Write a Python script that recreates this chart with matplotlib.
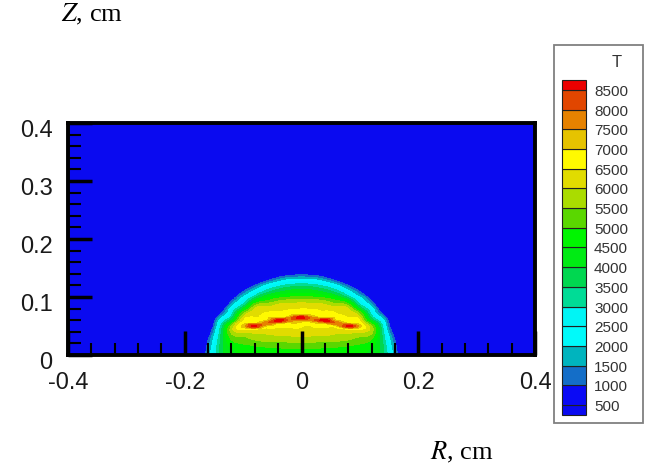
import numpy as np
import matplotlib.pyplot as plt
import matplotlib.tri as mtri
import matplotlib.transforms as mtransforms
from matplotlib.colors import ListedColormap, BoundaryNorm
from matplotlib.patches import Rectangle
from matplotlib.ticker import MultipleLocator

plt.rcParams['mathtext.fontset'] = 'stix'

# temperature field of the half dome (r >= 0);
# values under 500 all show as the ambient blue
r_half = [0.00, 0.02, 0.04, 0.06, 0.08, 0.10, 0.12, 0.14, 0.16, 0.18, 0.20]
z_vals = [0.00, 0.01, 0.02, 0.03, 0.035, 0.04, 0.045, 0.05, 0.055, 0.06, 0.065,
          0.07, 0.075, 0.08, 0.09, 0.10, 0.11, 0.12, 0.13, 0.14, 0.15, 0.16]
# one row per r value, one entry per z value
T_half = [
    [4750, 4950, 5400, 5900, 6100, 6250, 6400, 6550, 6800, 7700, 8700,
     7000, 6700, 6450, 6000, 5100, 4250, 3300, 2100, 750, -700, -2000],
    [4750, 4950, 5380, 5880, 6080, 6230, 6380, 6550, 6900, 7800, 7500,
     6900, 6650, 6400, 5950, 5000, 4150, 3200, 2000, 600, -800, -2100],
    [4720, 4920, 5350, 5850, 6050, 6200, 6350, 6600, 7300, 8700, 6950,
     6750, 6550, 6350, 5800, 4800, 3800, 2800, 1500, 200, -1100, -2400],
    [4700, 4880, 5300, 5780, 5960, 6150, 6400, 7000, 7900, 7000, 6800,
     6600, 6400, 6200, 5400, 4300, 3200, 2100, 700, -600, -1900, -3000],
    [4650, 4820, 5200, 5650, 5850, 6100, 6700, 8650, 7000, 6700, 6500,
     6350, 6200, 6000, 4800, 3300, 2200, 1000, -300, -1600, -2900, -3000],
    [4550, 4700, 5050, 5450, 5700, 6050, 6600, 7200, 6700, 6400, 6050,
     5600, 4900, 4000, 2800, 2000, 900, -400, -1700, -3000, -3000, -3000],
    [4350, 4450, 4750, 5150, 5400, 5650, 5750, 5500, 4800, 3900, 3300,
     2900, 2600, 2300, 1300, 100, -1200, -2500, -3000, -3000, -3000, -3000],
    [3600, 3550, 3450, 3300, 3200, 3100, 2950, 2750, 2500, 2100, 1600,
     1000, 400, -200, -1400, -2600, -3000, -3000, -3000, -3000, -3000, -3000],
    [1450, 1350, 1150, 850, 600, 350, 50, -250, -550, -850, -1150,
     -1450, -1750, -2050, -2650, -3000, -3000, -3000, -3000, -3000, -3000, -3000],
    [-500, -600, -800, -1100, -1300, -1500, -1700, -1900, -2100, -2300, -2500,
     -2700, -2900, -3000, -3000, -3000, -3000, -3000, -3000, -3000, -3000, -3000],
    [-2000, -2100, -2300, -2600, -2700, -2800, -2900, -3000, -3000, -3000, -3000,
     -3000, -3000, -3000, -3000, -3000, -3000, -3000, -3000, -3000, -3000, -3000],
]

levels = [500, 1000, 1500, 2000, 2500, 3000, 3500, 4000, 4500,
          5000, 5500, 6000, 6500, 7000, 7500, 8000, 8500]
level_labels = [str(v) for v in levels]

x_ticks = [-0.4, -0.2, 0.0, 0.2, 0.4]
x_tick_labels = ['-0.4', '-0.2', '0', '0.2', '0.4']
y_ticks = [0.0, 0.1, 0.2, 0.3, 0.4]
y_tick_labels = ['0', '0.1', '0.2', '0.3', '0.4']

# band colours, from below 500 up to above 8500
band_colors = ['#0a0af0', '#0a0af5', '#146ec8', '#00b4be', '#00fafa', '#00f5f5',
               '#00dc96', '#00d750', '#00eb14', '#00f500', '#5ad700', '#aadc00',
               '#e1dc00', '#fffa00', '#e6c300', '#e68200', '#e14600', '#eb0000']

cmap = ListedColormap(band_colors[1:-1])
cmap.set_under(band_colors[0])
cmap.set_over(band_colors[-1])
norm = BoundaryNorm(levels, cmap.N)

# mirror the half field to the left side
r_full = [-r for r in r_half[::-1]] + r_half[1:]
T_full = np.array(T_half[::-1] + T_half[1:], dtype=float)
R, Z = np.meshgrid(r_full, z_vals, indexing='ij')
tri = mtri.Triangulation(R.ravel(), Z.ravel())
interp = mtri.CubicTriInterpolator(tri, T_full.ravel(), kind='min_E')
refiner = mtri.UniformTriRefiner(tri)
tri_fine, T_fine = refiner.refine_field(T_full.ravel(), triinterpolator=interp, subdiv=4)

fig = plt.figure(figsize=(6.49, 4.74), dpi=100)
ax = fig.add_axes([68 / 649, 1 - 355 / 474, 467 / 649, 232 / 474])
ax.set_facecolor(band_colors[0])
ax.tricontourf(tri_fine, T_fine, levels=levels, cmap=cmap, norm=norm, extend='both')
ax.set_xlim(-0.4, 0.4)
ax.set_ylim(0, 0.4)

ax.set_xticks(x_ticks, labels=x_tick_labels)
ax.set_yticks(y_ticks, labels=y_tick_labels)
ax.xaxis.set_minor_locator(MultipleLocator(0.04))
ax.yaxis.set_minor_locator(MultipleLocator(0.02))
ax.tick_params(which='major', direction='in', length=17, width=2.5, color='black')
ax.tick_params(which='minor', direction='in', length=9, width=1.5, color='black')
ax.tick_params(axis='x', which='major', pad=12)
ax.tick_params(axis='y', which='major', pad=11)
shift = mtransforms.ScaledTranslation(0, -4 / 72, fig.dpi_scale_trans)
for lab in ax.get_xticklabels() + ax.get_yticklabels():
    lab.set_fontfamily('Liberation Sans')
    lab.set_fontsize(17)
    lab.set_color('#1a1a1a')
for lab in ax.get_yticklabels():
    lab.set_transform(lab.get_transform() + shift)
for sp in ax.spines.values():
    sp.set_linewidth(2.8)

fig.text(61 / 649, 1 - 21 / 474, r'$\mathit{Z}$, cm', fontsize=19,
         fontfamily='Liberation Serif', va='baseline', ha='left')
fig.text(430 / 649, 1 - 459 / 474, r'$\mathit{R}$, cm', fontsize=19,
         fontfamily='Liberation Serif', va='baseline', ha='left')

# legend drawn in pixel coordinates
lax = fig.add_axes([0, 0, 1, 1], zorder=5)
lax.set_xlim(0, 649)
lax.set_ylim(474, 0)
lax.axis('off')
lax.add_patch(Rectangle((554, 45), 89, 378, facecolor='white', edgecolor='#808080', lw=1.3))
lax.text(617, 62, 'T', fontsize=12, fontfamily='Liberation Sans', ha='center', va='center',
         color='#333333')
step = 19.69
base = 405
sw_x, sw_w = 562, 24
bounds = [base - k * step for k in range(len(levels))]
edges = [base + step / 2] + bounds + [bounds[-1] - step / 2]
for i, col in enumerate(band_colors):
    y0, y1 = edges[i], edges[i + 1]
    lax.add_patch(Rectangle((sw_x, y1), sw_w, y0 - y1, facecolor=col,
                            edgecolor='#202020', lw=0.8))
for yb, lab in zip(bounds, level_labels):
    lax.text(594, yb + 2, lab, fontsize=11, fontfamily='Liberation Sans',
             ha='left', va='center', color='#333333')

fig.savefig('out.png', dpi=100)
